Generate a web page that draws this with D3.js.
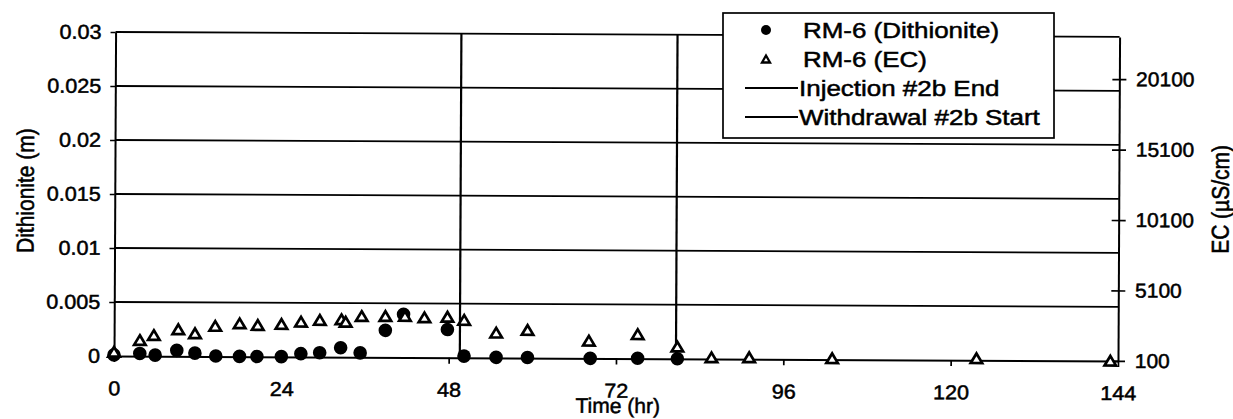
<!DOCTYPE html>
<html>
<head>
<meta charset="utf-8">
<script src="https://cdn.jsdelivr.net/npm/d3@7"></script>
<style>
  html, body { margin: 0; padding: 0; background: #fff; }
  svg { display: block; }
  text { font-family: "Liberation Sans", Arial, Helvetica, sans-serif; fill: #000; }
</style>
</head>
<body>
<svg id="chart" width="1233" height="419"></svg>
<script>
// ---------------- data ----------------
const xTicks = [0, 24, 48, 72, 96, 120, 144];
const xLabels = ["0", "24", "48", "72", "96", "120", "144"];
const yLTicks = [0, 0.005, 0.01, 0.015, 0.02, 0.025, 0.03];
const yLLabels = ["0", "0.005", "0.01", "0.015", "0.02", "0.025", "0.03"];
const yRTicks = [100, 5100, 10100, 15100, 20100];
const yRLabels = ["100", "5100", "10100", "15100", "20100"];

// RM-6 (Dithionite), left axis (m)
const dithTime = [0, 3.7, 5.9, 9.0, 11.6, 14.6, 18.0, 20.5, 24.0, 26.8, 29.5, 32.5, 35.3, 38.9, 41.5, 47.8, 50.2, 54.8, 59.3, 68.3, 75.1, 80.8];
const dithValue = [0.0001, 0.00025, 0.0001, 0.00055, 0.0003, 0.00005, 0.00002, 0.00002, 0.00002, 0.0003, 0.0004, 0.00087, 0.0004, 0.0025, 0.0040, 0.0026, 0.00015, 0.00005, 0.00005, 0.0, 0.00003, 0.0];

// RM-6 (EC), right axis (uS/cm)
const ecTime = [0, 3.7, 5.7, 9.2, 11.6, 14.5, 18.0, 20.6, 24.0, 26.8, 29.5, 32.6, 33.2, 35.5, 38.9, 41.7, 44.5, 47.8, 50.2, 54.8, 59.3, 68.1, 75.1, 80.8, 85.7, 91.1, 103.0, 123.7, 142.9];
const ecValue = [400, 1240, 1600, 2020, 1740, 2270, 2460, 2350, 2430, 2600, 2730, 2780, 2610, 3020, 3030, 3040, 2950, 3000, 2780, 1890, 2090, 1350, 1830, 960, 210, 230, 190, 240, 110];

// event lines (hr)
const eventNames = ["Injection #2b End", "Withdrawal #2b Start"];
const eventTimes = [49.6, 80.6];

const legendLabels = ["RM-6 (Dithionite)", "RM-6 (EC)", "Injection #2b End", "Withdrawal #2b Start"];

// ---------------- layout ----------------
const L = 114, R = 1118, T = 32, B = 356;
const svg = d3.select("#chart");

const x = d3.scaleLinear().domain([0, 144]).range([L, R]);
const yL = d3.scaleLinear().domain([0, 0.03]).range([B, T]);
const yR = d3.scaleLinear().domain([100, 23100]).range([B, T]);

const g = svg.append("g").attr("transform", `rotate(0.28,${L},${B})`);

// gridlines
g.append("g").selectAll("line")
  .data(yLTicks.filter(d => d > 0))
  .join("line")
  .attr("x1", L).attr("x2", R)
  .attr("y1", d => yL(d)).attr("y2", d => yL(d))
  .attr("stroke", "#000").attr("stroke-width", 1.8);

// event vertical lines
g.append("g").selectAll("line")
  .data(eventTimes)
  .join("line")
  .attr("x1", d => x(d)).attr("x2", d => x(d))
  .attr("y1", yL(0)).attr("y2", yL(0.03))
  .attr("stroke", "#000").attr("stroke-width", 2.2);

function styleAxis(sel, sx) {
  sel.attr("font-size", 20)
     .attr("font-family", '"Liberation Sans", Arial, Helvetica, sans-serif');
  sel.selectAll("path.domain").attr("stroke", "#000").attr("stroke-width", 2);
  sel.selectAll(".tick line").attr("stroke", "#000").attr("stroke-width", 1.7);
  sel.selectAll(".tick text").attr("transform", `scale(${sx},1)`)
     .attr("stroke", "#000").attr("stroke-width", 0.5);
}

// bottom axis
const gx = g.append("g").attr("transform", `translate(0,${B})`)
  .call(d3.axisBottom(x).tickValues(xTicks).tickSize(6).tickSizeOuter(0).tickPadding(19)
    .tickFormat((d, i) => xLabels[i]));
styleAxis(gx, 1.08);

// left axis
const gl = g.append("g").attr("transform", `translate(${L},0)`)
  .call(d3.axisLeft(yL).tickValues(yLTicks).tickSize(5).tickSizeOuter(0).tickPadding(8)
    .tickFormat((d, i) => yLLabels[i]));
styleAxis(gl, 1.08);

// right axis
const gr = g.append("g").attr("transform", `translate(${R},0)`)
  .call(d3.axisRight(yR).tickValues(yRTicks).tickSize(7).tickSizeOuter(0).tickPadding(9)
    .tickFormat((d, i) => yRLabels[i]));
gr.selectAll(".tick line").attr("x1", -7);
styleAxis(gr, 1.05);

// axis titles
g.append("text")
  .attr("transform", `translate(33,191) scale(1.15,1) rotate(-90)`)
  .attr("text-anchor", "middle").attr("font-size", 21)
  .attr("stroke", "#000").attr("stroke-width", 0.5)
  .text("Dithionite (m)");
g.append("text")
  .attr("transform", `translate(1228,194) scale(1.15,1) rotate(-90)`)
  .attr("text-anchor", "middle").attr("font-size", 21)
  .attr("stroke", "#000").attr("stroke-width", 0.5)
  .text("EC (µS/cm)");
g.append("text")
  .attr("x", 618).attr("y", 410.5)
  .attr("text-anchor", "middle").attr("font-size", 21)
  .attr("stroke", "#000").attr("stroke-width", 0.5)
  .text("Time (hr)");

// markers
function triPath(w, h) {
  return `M0,${-h / 2}L${w / 2},${h / 2}L${-w / 2},${h / 2}Z`;
}
const dith = dithTime.map((t, i) => ({ t, v: dithValue[i] }));
const ec = ecTime.map((t, i) => ({ t, v: ecValue[i] }));

g.append("g").selectAll("circle")
  .data(dith).join("circle")
  .attr("cx", d => x(d.t)).attr("cy", d => yL(d.v))
  .attr("r", 6.8).attr("fill", "#000");

g.append("g").selectAll("path")
  .data(ec).join("path")
  .attr("transform", d => `translate(${x(d.t)},${yR(d.v)})`)
  .attr("d", triPath(11.5, 9.6))
  .attr("fill", "#fff").attr("stroke", "#000").attr("stroke-width", 2.7)
  .attr("stroke-linejoin", "miter");

// legend
const lg = svg.append("g");
lg.append("rect")
  .attr("x", 723).attr("y", 13).attr("width", 331).attr("height", 125)
  .attr("fill", "#fff").attr("stroke", "#000").attr("stroke-width", 1.7);
const rowY = [30, 59, 88, 117];
lg.append("circle").attr("cx", 766).attr("cy", rowY[0]).attr("r", 5).attr("fill", "#000");
lg.append("path").attr("transform", `translate(766,${rowY[1]})`).attr("d", triPath(8, 7))
  .attr("fill", "#fff").attr("stroke", "#000").attr("stroke-width", 2.3);
[2, 3].forEach(i => {
  lg.append("line").attr("x1", 745).attr("x2", 798)
    .attr("y1", rowY[i]).attr("y2", rowY[i])
    .attr("stroke", "#000").attr("stroke-width", 2);
});
legendLabels.forEach((lab, i) => {
  lg.append("text")
    .attr("transform", `translate(${i < 2 ? 803 : 799},${rowY[i]}) scale(1.18,1)`)
    .attr("dy", "0.36em").attr("font-size", 22)
    .attr("stroke", "#000").attr("stroke-width", 0.5)
    .text(lab);
});
</script>
</body>
</html>
